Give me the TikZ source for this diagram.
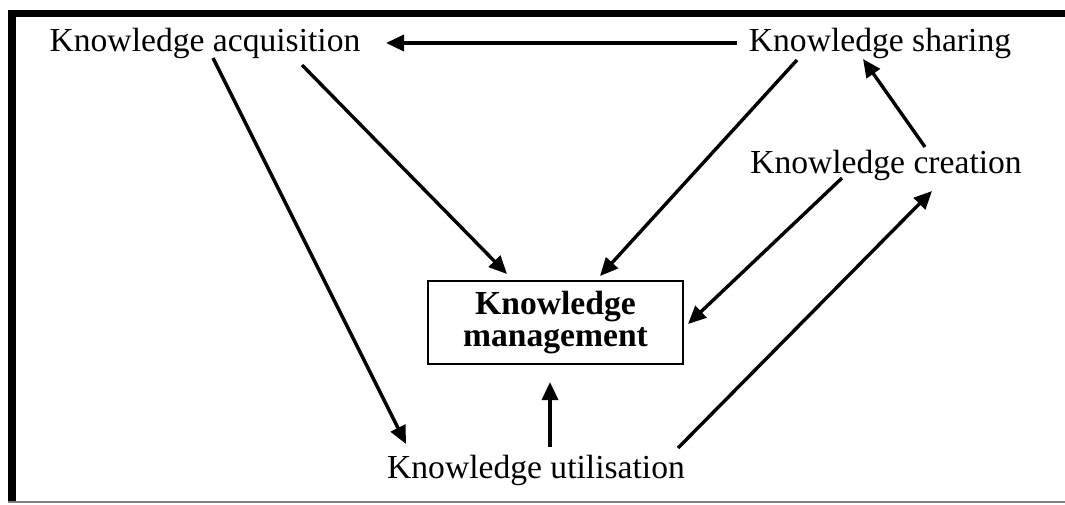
\documentclass[tikz,border=0pt]{standalone}
\usepackage{fontspec}
\setmainfont{Liberation Serif}
\usetikzlibrary{arrows.meta}
\begin{document}
\begin{tikzpicture}[x=0.5pt,y=-0.5pt,
  lbl/.style={inner sep=0pt,font=\fontsize{16.8}{20}\selectfont},
  kmbox/.style={draw,line width=1pt,minimum width=127.5pt,minimum height=41.5pt,align=center,
    font=\fontsize{16.8}{16}\selectfont\bfseries},
  conn/.style={line width=1.7pt,-{Triangle[length=9pt,width=8pt]}}]
\useasboundingbox (0,0) rectangle (1065,504);
\fill[white] (0,0) rectangle (1065,504);
% frame
\fill[black] (8,10) rectangle (1065,17);
\fill[black] (8,10) rectangle (16,502);
\draw[gray,line width=1pt] (8,502) -- (1065,502);
% nodes
\node[lbl] (acq) at (205,43) {Knowledge acquisition};
\node[lbl] (sha) at (880,43) {Knowledge sharing};
\node[lbl] (cre) at (886,165) {Knowledge creation};
\node[lbl] (uti) at (536,470) {Knowledge utilisation};
\node[kmbox] (km) at (555.5,322.5) {Knowledge\\management};
% connector end points
\coordinate (shaL) at (737,43);
\coordinate (acqR) at (386,43);
\coordinate (acqA) at (302,65);
\coordinate (kmA) at (507,274);
\coordinate (acqB) at (213,58);
\coordinate (utiB) at (406,444);
\coordinate (shaB) at (797,60);
\coordinate (kmB) at (600,276);
\coordinate (creA) at (925,147);
\coordinate (shaC) at (863,59);
\coordinate (creB) at (842,178);
\coordinate (kmC) at (688,324);
\coordinate (utiC) at (678,448);
\coordinate (creC) at (932,191);
\coordinate (utiD) at (550,447);
\coordinate (kmD) at (550,382);
% connectors
\draw[conn] (shaL) -- (acqR);
\draw[conn] (acqA) -- (kmA);
\draw[conn] (acqB) -- (utiB);
\draw[conn] (shaB) -- (kmB);
\draw[conn] (creA) -- (shaC);
\draw[conn] (creB) -- (kmC);
\draw[conn] (utiC) -- (creC);
\draw[conn] (utiD) -- (kmD);
\end{tikzpicture}
\end{document}
